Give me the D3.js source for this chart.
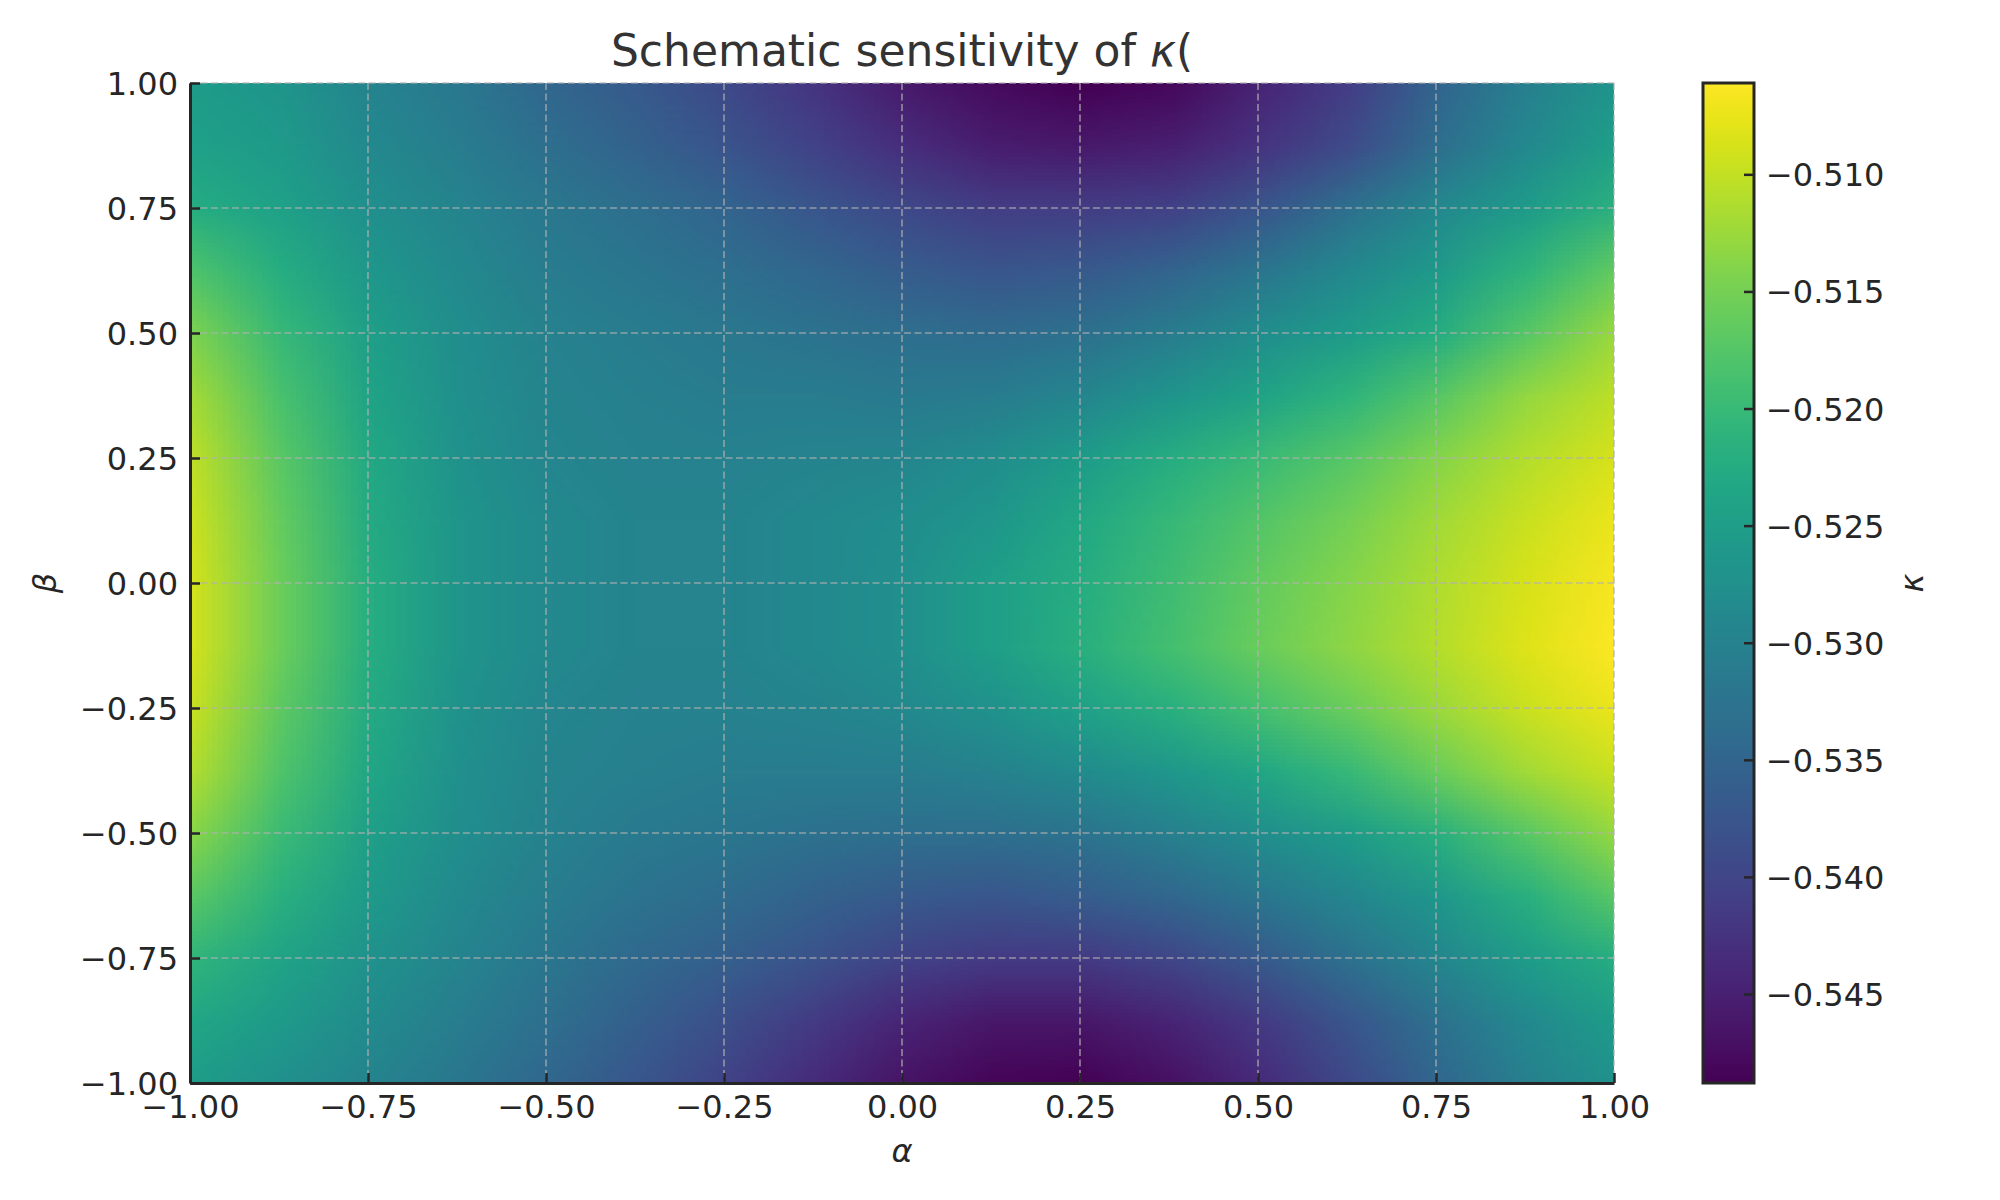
<!DOCTYPE html>
<html lang="en">
<head>
  <meta charset="UTF-8">
  <title>Schematic sensitivity of kappa</title>
  <script src="https://d3js.org/d3.v7.min.js"></script>
  <style>
    html, body { margin: 0; padding: 0; background: #fff; }
    text { font-family: "DejaVu Sans", sans-serif; }
  </style>
</head>
<body>
<div id="chart-container"></div>

<script>
// grid points along each axis (beta listed top to bottom)
var alphaVals = [-1, -0.875, -0.75, -0.625, -0.5, -0.375, -0.25, -0.125, 0,
                 0.125, 0.25, 0.375, 0.5, 0.625, 0.75, 0.875, 1];
var betaVals = [1, 0.875, 0.75, 0.625, 0.5, 0.375, 0.25, 0.125, 0,
                -0.125, -0.25, -0.375, -0.5, -0.625, -0.75, -0.875, -1];

// kappa, one row per beta value
var kappaRows = [
  [-0.5253,-0.5266,-0.5296,-0.5317,-0.5347,-0.5368,-0.5394,-0.5424,-0.5458,-0.5475,-0.5488,-0.5479,-0.5445,-0.5411,-0.5351,-0.5304,-0.5266],
  [-0.5245,-0.5257,-0.5287,-0.5309,-0.5334,-0.5356,-0.5377,-0.5403,-0.5432,-0.5454,-0.5458,-0.5450,-0.5424,-0.5390,-0.5334,-0.5287,-0.5249],
  [-0.5223,-0.5245,-0.5275,-0.5296,-0.5317,-0.5334,-0.5351,-0.5373,-0.5394,-0.5411,-0.5411,-0.5403,-0.5373,-0.5330,-0.5287,-0.5253,-0.5215],
  [-0.5181,-0.5223,-0.5262,-0.5287,-0.5309,-0.5321,-0.5334,-0.5347,-0.5364,-0.5373,-0.5368,-0.5351,-0.5321,-0.5287,-0.5257,-0.5210,-0.5163],
  [-0.5146,-0.5202,-0.5249,-0.5279,-0.5300,-0.5309,-0.5317,-0.5326,-0.5334,-0.5339,-0.5330,-0.5309,-0.5279,-0.5253,-0.5223,-0.5172,-0.5125],
  [-0.5121,-0.5185,-0.5240,-0.5275,-0.5296,-0.5304,-0.5309,-0.5309,-0.5313,-0.5309,-0.5292,-0.5266,-0.5240,-0.5210,-0.5172,-0.5129,-0.5104],
  [-0.5104,-0.5172,-0.5232,-0.5270,-0.5292,-0.5300,-0.5300,-0.5296,-0.5292,-0.5279,-0.5253,-0.5223,-0.5198,-0.5172,-0.5138,-0.5108,-0.5087],
  [-0.5095,-0.5163,-0.5228,-0.5266,-0.5287,-0.5296,-0.5296,-0.5287,-0.5279,-0.5262,-0.5232,-0.5202,-0.5176,-0.5151,-0.5121,-0.5095,-0.5074],
  [-0.5091,-0.5159,-0.5223,-0.5266,-0.5287,-0.5296,-0.5296,-0.5287,-0.5275,-0.5249,-0.5223,-0.5193,-0.5163,-0.5138,-0.5112,-0.5087,-0.5065],
  [-0.5091,-0.5159,-0.5223,-0.5266,-0.5287,-0.5296,-0.5296,-0.5287,-0.5275,-0.5249,-0.5219,-0.5189,-0.5159,-0.5134,-0.5108,-0.5082,-0.5061],
  [-0.5099,-0.5168,-0.5228,-0.5270,-0.5292,-0.5300,-0.5300,-0.5296,-0.5287,-0.5270,-0.5245,-0.5219,-0.5189,-0.5159,-0.5125,-0.5095,-0.5074],
  [-0.5112,-0.5181,-0.5236,-0.5275,-0.5296,-0.5304,-0.5309,-0.5309,-0.5309,-0.5300,-0.5283,-0.5262,-0.5236,-0.5202,-0.5159,-0.5121,-0.5095],
  [-0.5138,-0.5198,-0.5249,-0.5279,-0.5300,-0.5313,-0.5321,-0.5330,-0.5334,-0.5334,-0.5326,-0.5304,-0.5279,-0.5253,-0.5219,-0.5172,-0.5129],
  [-0.5172,-0.5219,-0.5257,-0.5287,-0.5309,-0.5326,-0.5339,-0.5356,-0.5368,-0.5373,-0.5364,-0.5347,-0.5321,-0.5292,-0.5262,-0.5219,-0.5172],
  [-0.5210,-0.5240,-0.5270,-0.5296,-0.5321,-0.5343,-0.5360,-0.5381,-0.5403,-0.5415,-0.5415,-0.5398,-0.5368,-0.5330,-0.5292,-0.5253,-0.5223],
  [-0.5236,-0.5257,-0.5283,-0.5309,-0.5334,-0.5360,-0.5386,-0.5415,-0.5445,-0.5462,-0.5462,-0.5445,-0.5415,-0.5373,-0.5330,-0.5287,-0.5253],
  [-0.5253,-0.5275,-0.5296,-0.5321,-0.5347,-0.5373,-0.5403,-0.5437,-0.5467,-0.5484,-0.5488,-0.5471,-0.5437,-0.5394,-0.5347,-0.5304,-0.5270]
];

var axisTicks = [-1, -0.75, -0.5, -0.25, 0, 0.25, 0.5, 0.75, 1];
var colorbarTicks = [-0.545, -0.54, -0.535, -0.53, -0.525, -0.52, -0.515, -0.51];
var colorDomain = [-0.5488, -0.5061];

var ink = "#262626";

function drawHeatmap() {
  var margin = { top: 83, left: 190 };
  var width = 1424, height = 1000;

  var svg = d3.select("#chart-container")
    .append("svg")
    .attr("width", 2000)
    .attr("height", 1200);

  var g = svg.append("g")
    .attr("transform", "translate(" + margin.left + "," + margin.top + ")");

  var x = d3.scaleLinear().domain([-1, 1]).range([0, width]);
  var y = d3.scaleLinear().domain([-1, 1]).range([height, 0]);
  var color = d3.scaleSequential(d3.interpolateViridis).domain(colorDomain);

  // paint one pixel per grid point, let the browser smooth it when scaled up
  var canvas = document.createElement("canvas");
  canvas.width = alphaVals.length;
  canvas.height = betaVals.length;
  var ctx = canvas.getContext("2d");
  kappaRows.forEach(function(row, j) {
    row.forEach(function(v, i) {
      ctx.fillStyle = color(v);
      ctx.fillRect(i, j, 1, 1);
    });
  });

  var da = (alphaVals[1] - alphaVals[0]) / 2;
  var db = (betaVals[0] - betaVals[1]) / 2;

  svg.append("defs").append("clipPath")
    .attr("id", "plot-clip")
    .append("rect")
    .attr("width", width)
    .attr("height", height);

  g.append("g")
    .attr("clip-path", "url(#plot-clip)")
    .append("image")
    .attr("href", canvas.toDataURL())
    .attr("preserveAspectRatio", "none")
    .attr("x", x(alphaVals[0] - da))
    .attr("y", y(betaVals[0] + db))
    .attr("width", x(alphaVals[alphaVals.length - 1] + da) - x(alphaVals[0] - da))
    .attr("height", y(betaVals[betaVals.length - 1] - db) - y(betaVals[0] + db));

  // dashed grid
  var grid = g.append("g")
    .attr("stroke", "#b0b0b0")
    .attr("stroke-opacity", 0.75)
    .attr("stroke-width", 1.6)
    .attr("stroke-dasharray", "7,3.5");
  grid.selectAll(".vx").data(axisTicks).enter().append("line")
    .attr("x1", d => x(d)).attr("x2", d => x(d))
    .attr("y1", 0).attr("y2", height);
  grid.selectAll(".hy").data(axisTicks).enter().append("line")
    .attr("y1", d => y(d)).attr("y2", d => y(d))
    .attr("x1", 0).attr("x2", width);

  var fmt = d3.format(".2f");

  var xAxis = g.append("g")
    .attr("transform", "translate(0," + height + ")")
    .call(d3.axisBottom(x).tickValues(axisTicks).tickFormat(fmt)
      .tickSizeInner(-10).tickSizeOuter(0).tickPadding(12));

  var yAxis = g.append("g")
    .call(d3.axisLeft(y).tickValues(axisTicks).tickFormat(fmt)
      .tickSizeInner(-10).tickSizeOuter(0).tickPadding(12));

  [xAxis, yAxis].forEach(function(a) {
    a.select(".domain").attr("stroke", ink).attr("stroke-width", 3);
    a.selectAll(".tick line").attr("stroke", ink).attr("stroke-width", 2.5);
    a.selectAll(".tick text")
      .attr("fill", ink)
      .style("font-family", "DejaVu Sans")
      .style("font-size", "32px");
  });
  yAxis.selectAll(".tick text").attr("dy", "0.36em");

  // title
  svg.append("text")
    .attr("x", margin.left + width / 2)
    .attr("y", 66)
    .attr("text-anchor", "middle")
    .attr("fill", "#333333")
    .style("font-size", "44px")
    .text("Schematic sensitivity of ")
    .append("tspan")
    .style("font-style", "italic")
    .text("\u03ba")
    .append("tspan")
    .style("font-style", "normal")
    .text("(");

  // axis labels
  svg.append("text")
    .attr("x", margin.left + width / 2)
    .attr("y", 1162)
    .attr("text-anchor", "middle")
    .attr("fill", ink)
    .style("font-size", "32px")
    .style("font-style", "italic")
    .text("\u03b1");

  svg.append("text")
    .attr("transform", "translate(56," + (margin.top + height / 2) + ") rotate(-90)")
    .attr("text-anchor", "middle")
    .attr("fill", ink)
    .style("font-size", "32px")
    .style("font-style", "italic")
    .text("\u03b2");

  // colorbar
  var cbX = 1703, cbW = 51;
  var cb = svg.append("g")
    .attr("transform", "translate(" + cbX + "," + margin.top + ")");
  var cy = d3.scaleLinear().domain(colorDomain).range([height, 0]);

  var grad = svg.select("defs").append("linearGradient")
    .attr("id", "cb-grad")
    .attr("x1", 0).attr("y1", 1).attr("x2", 0).attr("y2", 0);
  grad.selectAll("stop")
    .data(d3.range(0, 1.0001, 0.02))
    .enter().append("stop")
    .attr("offset", d => d)
    .attr("stop-color", d => d3.interpolateViridis(d));

  cb.append("rect")
    .attr("width", cbW)
    .attr("height", height)
    .attr("fill", "url(#cb-grad)");

  var cbAxis = cb.append("g")
    .attr("transform", "translate(" + cbW + ",0)")
    .call(d3.axisRight(cy).tickValues(colorbarTicks).tickFormat(d3.format(".3f"))
      .tickSizeInner(-10).tickSizeOuter(0).tickPadding(12));
  cbAxis.select(".domain").remove();
  cbAxis.selectAll(".tick line").attr("stroke", ink).attr("stroke-width", 2.5);
  cbAxis.selectAll(".tick text")
    .attr("fill", ink)
    .attr("dy", "0.36em")
    .style("font-family", "DejaVu Sans")
    .style("font-size", "32px");

  cb.append("rect")
    .attr("width", cbW)
    .attr("height", height)
    .attr("fill", "none")
    .attr("stroke", ink)
    .attr("stroke-width", 3);

  svg.append("text")
    .attr("transform", "translate(1923," + (margin.top + height / 2) + ") rotate(-90)")
    .attr("text-anchor", "middle")
    .attr("fill", ink)
    .style("font-size", "32px")
    .style("font-style", "italic")
    .text("\u03ba");
}

drawHeatmap();
</script>
</body>
</html>
